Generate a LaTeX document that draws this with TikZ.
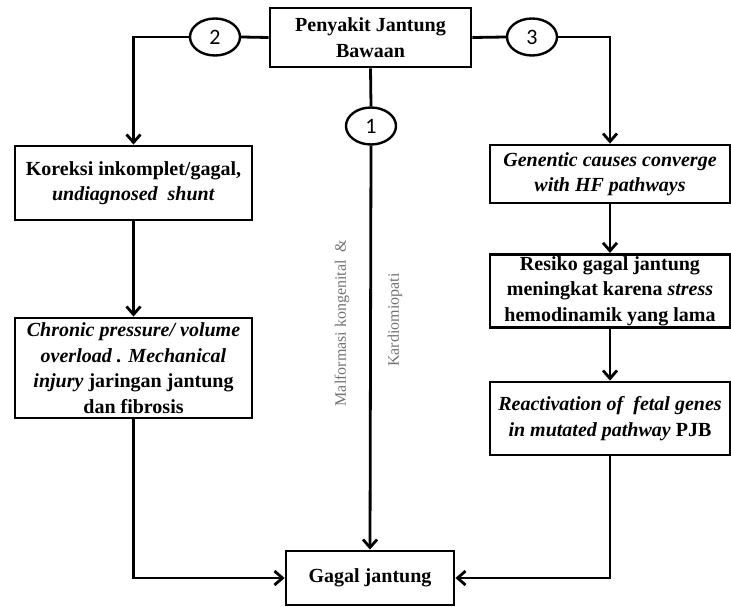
\documentclass[tikz,border=0pt]{standalone}
\usepackage{fontspec}
\setmainfont{Liberation Serif}
\newfontfamily\numfont{Carlito}
\usetikzlibrary{arrows.meta, shapes.geometric}

\begin{document}
\begin{tikzpicture}[
      x=1pt, y=-1pt,
      box/.style={
        draw=black,
        line width=2.8pt,
        align=center,
        inner sep=2pt,
        font=\bfseries\fontsize{20}{25.5}\selectfont
      },
      num/.style={
        ellipse,
        draw=black,
        line width=2.4pt,
        fill=white,
        minimum width=50pt,
        minimum height=37pt,
        inner sep=0pt,
        font=\numfont\fontsize{22}{24}\selectfont
      },
      side/.style={
        rotate=90,
        text=black!55,
        font=\fontsize{16}{18}\selectfont
      },
      link/.style={line width=2.8pt},
      arr/.style={link, -{Straight Barb[length=8pt,width=14pt]}}
    ]
    \useasboundingbox (0,0) rectangle (731,607);

        % Main node
        \node[box, minimum width=201pt, minimum height=59pt] (pjb) at (370.5,37.5)
          {Penyakit Jantung\\Bawaan};

        % Numbered paths
        \node[num] (n2) at (215,37) {2};
        \node[num] (n3) at (532,37) {3};
        \node[num] (n1) at (371,126) {1};

        % Left path
        \node[box, minimum width=237pt, minimum height=74pt] (koreksi) at (133.5,183)
          {Koreksi inkomplet/gagal,\\\textit{undiagnosed\ \ shunt}};

        \node[box, minimum width=237pt, minimum height=100pt] (chronic) at (133.5,368)
          {\textit{Chronic pressure/ volume}\\\textit{overload . Mechanical}\\\textit{injury} jaringan jantung\\dan fibrosis};

        % Right path
        \node[box, minimum width=240pt, minimum height=58pt] (genetic) at (610,174)
          {\textit{Genentic causes converge}\\\textit{with HF pathways}};

        \node[box, minimum width=240pt, minimum height=72pt] (resiko) at (610,291)
          {Resiko gagal jantung\\meningkat karena \textit{stress}\\hemodinamik yang lama};

        \node[box, minimum width=240pt, minimum height=73pt] (fetal) at (610,418.5)
          {\textit{Reactivation of\ \ fetal genes}\\\textit{in mutated pathway} PJB};

        % Outcome
        \node[box, minimum width=168pt, minimum height=54pt] (gagal) at (370,578)
          {Gagal jantung};

        % Middle labels
        \node[side] (malf) at (342,323) {Malformasi kongenital\ \ \&};
        \node[side] (kardio) at (395,320) {Kardiomiopati};

        % Connectors
        \draw[link] (pjb.west) -- (n2.east);
        \draw[arr] (n2.west) -| (koreksi.north);
        \draw[link] (pjb.east) -- (n3.west);
        \draw[arr] (n3.east) -| (genetic.north);
        \draw[link] (pjb.south) -- (n1.north);
        \draw[arr] (n1.south) -- (gagal.north);

        \draw[arr] (koreksi) -- (chronic);
        \draw[arr] (chronic.south) |- (gagal.west);
        \draw[arr] (genetic) -- (resiko);
        \draw[arr] (resiko) -- (fetal);
        \draw[arr] (fetal.south) |- (gagal.east);

    \end{tikzpicture}
\end{document}
